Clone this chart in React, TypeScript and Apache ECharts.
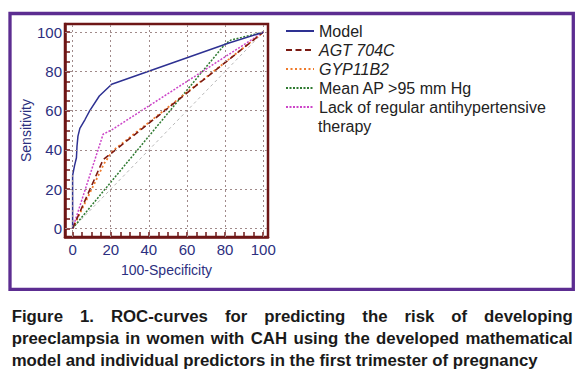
import React, { useEffect, useRef } from "react";
import * as echarts from "echarts";

// ---- data ----
const seriesNames = [
  "Model",
  "AGT 704C",
  "GYP11B2",
  "Mean AP >95 mm Hg",
  "Lack of regular antihypertensive therapy",
];
const modelPts = [
  [0, 0], [0, 27], [1, 32], [2, 36], [2.3, 42], [2.8, 47], [3.8, 51],
  [6.5, 55.5], [9, 60], [14, 67.5], [20.5, 73.5], [82, 94.5], [100, 100],
];
const agtPts = [[0, 0], [16, 35], [100, 100]];
const gypPts = [[0, 0], [16.5, 33], [21, 39.5], [100, 100]];
const meanApPts = [[0, 0], [80, 94], [83, 96], [100, 100]];
const lackPts = [[0, 0], [16, 48], [20.5, 50.2], [100, 100]];
const diagonalPts = [[0, 0], [100, 100]];
const labelTicks = [0, 20, 40, 60, 80, 100];
const minorTicks = [0, 5, 10, 15, 20, 25, 30, 35, 40, 45, 50, 55, 60, 65, 70, 75, 80, 85, 90, 95, 100];
const xAxisName = "100-Specificity";
const yAxisName = "Sensitivity";
const captionLines = [
  "Figure 1. ROC-curves for predicting the risk of developing",
  "preeclampsia in women with CAH using the developed mathematical",
  "model and individual predictors in the first trimester of pregnancy",
];

const FONT = '"Liberation Sans", Arial, Helvetica, sans-serif';
const NAVY = "#2c2f80";
const FRAME = "#6e1616";

export default function App() {
  const ref = useRef<HTMLDivElement>(null);

  useEffect(() => {
    if (!ref.current) return;
    const chart = echarts.init(ref.current, undefined, { renderer: "svg" });

    // caption with justified lines
    const capSize = 16.8;
    const canvas = document.createElement("canvas");
    const ctx = canvas.getContext("2d")!;
    ctx.font = `bold ${capSize}px ${FONT}`;
    const capLeft = 11.7;
    const capRight = 572.7;
    const capY = [316.2, 338.2, 360.2];
    const captionGraphics: any[] = [];
    const capStyle = {
      fontSize: capSize,
      fontWeight: "bold",
      fontFamily: FONT,
      fill: "#1a1a1a",
      verticalAlign: "middle",
    };
    captionLines.forEach((line, li) => {
      const words = line.split(" ");
      const justify = li < captionLines.length - 1;
      if (!justify) {
        captionGraphics.push({
          type: "text",
          x: capLeft,
          y: capY[li],
          style: { text: line, ...capStyle },
        });
        return;
      }
      const widths = words.map((w) => ctx.measureText(w).width);
      const total = widths.reduce((a, b) => a + b, 0);
      const gap = (capRight - capLeft - total) / (words.length - 1);
      let x = capLeft;
      words.forEach((w, i) => {
        captionGraphics.push({
          type: "text",
          x,
          y: capY[li],
          style: { text: w, ...capStyle },
        });
        x += widths[i] + gap;
      });
    });

    const lineSeries = (
      name: string,
      data: number[][],
      color: string,
      type: any,
      width: number
    ) => ({
      name,
      type: "line",
      data,
      symbol: "none",
      z: 3,
      lineStyle: { color, type, width },
      itemStyle: { color },
    });

    const option: any = {
      animation: false,
      backgroundColor: "#ffffff",
      grid: {
        left: 65,
        top: 24,
        width: 203,
        height: 213,
        show: true,
        borderColor: FRAME,
        borderWidth: 2.5,
        backgroundColor: "transparent",
      },
      xAxis: {
        type: "value",
        min: -4,
        max: 102.5,
        position: "bottom",
        name: xAxisName,
        nameLocation: "middle",
        nameGap: 26,
        nameTextStyle: { color: NAVY, fontSize: 14, fontFamily: FONT },
        axisLine: { show: true, onZero: false, lineStyle: { color: FRAME, width: 2.5 } },
        axisTick: {
          show: true,
          inside: true,
          length: 5,
          customValues: minorTicks,
          lineStyle: { color: FRAME, width: 1.5 },
        },
        axisLabel: {
          customValues: labelTicks,
          color: NAVY,
          fontSize: 15,
          fontFamily: FONT,
          margin: 5,
        },
        splitLine: { show: false },
      },
      yAxis: {
        type: "value",
        min: -4.4,
        max: 104.2,
        position: "left",
        name: yAxisName,
        nameLocation: "middle",
        nameGap: 31,
        nameTextStyle: { color: NAVY, fontSize: 14, fontFamily: FONT },
        axisLine: { show: true, onZero: false, lineStyle: { color: FRAME, width: 2.5 } },
        axisTick: {
          show: true,
          inside: true,
          length: 5,
          customValues: minorTicks,
          lineStyle: { color: FRAME, width: 1.5 },
        },
        axisLabel: {
          customValues: labelTicks,
          color: NAVY,
          fontSize: 15,
          fontFamily: FONT,
          margin: 3,
        },
        splitLine: { show: false },
      },
      legend: {
        data: seriesNames,
        orient: "vertical",
        left: 285,
        top: 21.5,
        padding: 0,
        itemGap: 0,
        itemWidth: 28,
        itemHeight: 10,
        selectedMode: false,
        itemStyle: { opacity: 0 },
        formatter: (name: string) => {
          if (name === "AGT 704C" || name === "GYP11B2") return `{i|${name}}`;
          if (name.startsWith("Lack")) return "Lack of regular antihypertensive";
          return name;
        },
        textStyle: {
          color: "#222222",
          fontSize: 16,
          lineHeight: 19,
          fontFamily: FONT,
          rich: {
            i: {
              fontStyle: "italic",
              color: "#222222",
              fontSize: 16,
              lineHeight: 19,
              fontFamily: FONT,
            },
          },
        },
      },
      series: [
        {
          name: "reference",
          type: "line",
          data: diagonalPts,
          symbol: "none",
          z: 1,
          lineStyle: { color: "#b8b8b8", type: [3, 3], width: 1 },
          markLine: {
            silent: true,
            symbol: ["none", "none"],
            label: { show: false },
            lineStyle: { color: "#a08a8a", type: [2, 3], width: 1 },
            data: [
              ...labelTicks.map((v) => ({ xAxis: v })),
              ...labelTicks.map((v) => ({ yAxis: v })),
            ],
          },
        },
        lineSeries(seriesNames[3], meanApPts, "#2e7a30", [2, 1.5], 1.5),
        lineSeries(seriesNames[4], lackPts, "#cc44c8", [2, 1.5], 1.5),
        lineSeries(seriesNames[2], gypPts, "#f07a2a", [2, 2.5], 1.8),
        lineSeries(seriesNames[1], agtPts, "#7b1a12", [6, 3.5], 1.6),
        lineSeries(seriesNames[0], modelPts, "#2e3192", "solid", 1.5),
      ],
      graphic: [
        {
          type: "rect",
          shape: { x: 10, y: 13.5, width: 563.3, height: 275.8 },
          style: { fill: "none", stroke: "#5c2d91", lineWidth: 3.3 },
          silent: true,
        },
        {
          type: "text",
          x: 318,
          y: 126,
          style: {
            text: "therapy",
            fontSize: 16,
            fontFamily: FONT,
            fill: "#222222",
            verticalAlign: "middle",
          },
        },
        ...captionGraphics,
      ],
    };

    chart.setOption(option);
    return () => chart.dispose();
  }, []);

  return (
    <div
      ref={ref}
      style={{ position: "absolute", left: 0, top: 0, width: 585, height: 377, background: "#fff" }}
    />
  );
}
